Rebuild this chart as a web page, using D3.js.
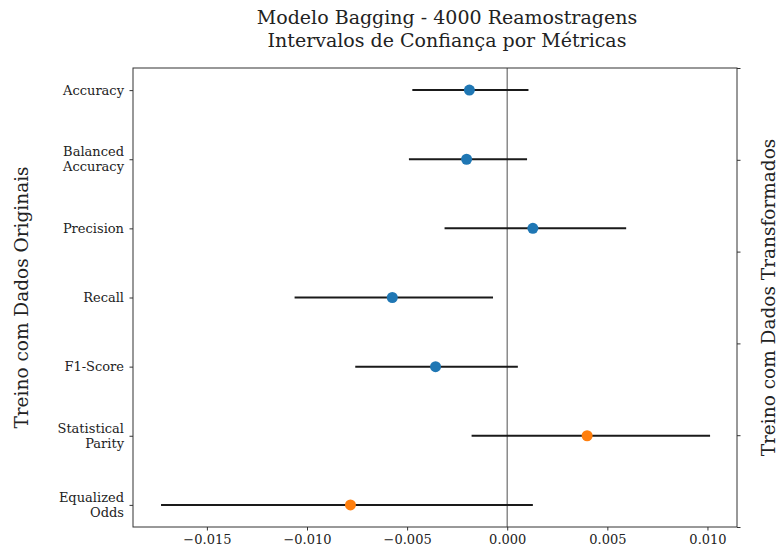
<!DOCTYPE html>
<html>
<head>
<meta charset="utf-8">
<script src="https://cdn.jsdelivr.net/npm/d3@7"></script>
<style>
  body { margin: 0; background: #fff; }
  text { font-family: "DejaVu Serif", serif; fill: #222; }
</style>
</head>
<body>
<div id="chart"></div>
<script>
// metrics, top to bottom
var metrics = ["Accuracy", "Balanced Accuracy", "Precision", "Recall", "F1-Score", "Statistical Parity", "Equalized Odds"];
var labelLines = [["Accuracy"], ["Balanced", "Accuracy"], ["Precision"], ["Recall"], ["F1-Score"], ["Statistical", "Parity"], ["Equalized", "Odds"]];
var means = [-0.00189, -0.00203, 0.00128, -0.00574, -0.00358, 0.00399, -0.00783];
var lower = [-0.00474, -0.00491, -0.00313, -0.01062, -0.00759, -0.00178, -0.01729];
var upper = [0.00106, 0.00099, 0.00594, -0.00071, 0.00053, 0.01013, 0.00128];
var groups = ["perf", "perf", "perf", "perf", "perf", "fair", "fair"];
var xTicks = [-0.015, -0.010, -0.005, 0.000, 0.005, 0.010];
var rightTicks = [0, 0.2, 0.4, 0.6, 0.8, 1.0];

var width = 781, height = 552;
var margin = {top: 68, right: 44, bottom: 25, left: 133};
var w = width - margin.left - margin.right,
    h = height - margin.top - margin.bottom;

var svg = d3.select("#chart").append("svg")
    .attr("width", width)
    .attr("height", height);

var g = svg.append("g")
    .attr("transform", "translate(" + margin.left + "," + margin.top + ")");

var x = d3.scaleLinear()
    .domain([-0.01869, 0.011475])
    .range([0, w]);

var y = d3.scalePoint()
    .domain(metrics)
    .range([0, h])
    .padding(0.32);

var yRight = d3.scaleLinear().domain([1, 0]).range([0, h]);

var color = {perf: "#1f77b4", fair: "#ff7f0e"};

// zero reference line
g.append("line")
    .attr("x1", x(0)).attr("x2", x(0))
    .attr("y1", 0).attr("y2", h)
    .attr("stroke", "#8a8a8a")
    .attr("stroke-width", 1.5);

// intervals
var rows = metrics.map(function(m, i) {
    return {name: m, mean: means[i], lo: lower[i], hi: upper[i], group: groups[i], lines: labelLines[i]};
});

g.selectAll(".ci")
    .data(rows)
    .enter().append("line")
    .attr("class", "ci")
    .attr("x1", function(d) { return x(d.lo); })
    .attr("x2", function(d) { return x(d.hi); })
    .attr("y1", function(d) { return y(d.name); })
    .attr("y2", function(d) { return y(d.name); })
    .attr("stroke", "#1a1a1a")
    .attr("stroke-width", 2);

g.selectAll(".pt")
    .data(rows)
    .enter().append("circle")
    .attr("class", "pt")
    .attr("cx", function(d) { return x(d.mean); })
    .attr("cy", function(d) { return y(d.name); })
    .attr("r", 5.5)
    .attr("fill", function(d) { return color[d.group]; });

// frame
g.append("rect")
    .attr("width", w).attr("height", h)
    .attr("fill", "none")
    .attr("stroke", "#333")
    .attr("stroke-width", 1);

// x axis
var xAxis = g.append("g")
    .attr("transform", "translate(0," + h + ")")
    .call(d3.axisBottom(x).tickValues(xTicks).tickFormat(d3.format(".3f")).tickSize(3.5).tickPadding(4));
xAxis.select(".domain").remove();
xAxis.selectAll("line").attr("stroke", "#333");
xAxis.selectAll("text").style("font-family", "DejaVu Serif").style("font-size", "13px").attr("fill", "#222");

// left axis
var yAxis = g.append("g")
    .call(d3.axisLeft(y).tickSize(3.5).tickFormat(""));
yAxis.select(".domain").remove();
yAxis.selectAll("line").attr("stroke", "#333");

g.selectAll(".ylab")
    .data(rows)
    .enter().append("text")
    .attr("class", "ylab")
    .attr("text-anchor", "end")
    .attr("x", -9)
    .attr("y", function(d) { return y(d.name); })
    .style("font-size", "13px")
    .each(function(d) {
        var t = d3.select(this);
        var n = d.lines.length;
        d.lines.forEach(function(s, k) {
            t.append("tspan")
                .attr("x", -9)
                .attr("dy", k === 0 ? (0.35 - (n - 1) * 0.58) + "em" : "1.16em")
                .text(s);
        });
    });

// right (twin) axis, ticks only
var rAxis = g.append("g")
    .attr("transform", "translate(" + w + ",0)")
    .call(d3.axisRight(yRight).tickValues(rightTicks).tickSize(3.5).tickFormat(""));
rAxis.select(".domain").remove();
rAxis.selectAll("line").attr("stroke", "#333");

// axis titles
svg.append("text")
    .attr("transform", "translate(22," + (margin.top + h / 2) + ") rotate(-90)")
    .attr("text-anchor", "middle")
    .attr("dy", "0.35em")
    .style("font-size", "18.5px")
    .text("Treino com Dados Originais");

svg.append("text")
    .attr("transform", "translate(769," + (margin.top + h / 2) + ") rotate(-90)")
    .attr("text-anchor", "middle")
    .attr("dy", "0.35em")
    .style("font-size", "18.5px")
    .text("Treino com Dados Transformados");

// title
var tx = 447;
var title = svg.append("text")
    .attr("text-anchor", "middle")
    .style("font-size", "19px");
title.append("tspan").attr("x", tx).attr("y", 24).text("Modelo Bagging - 4000 Reamostragens");
title.append("tspan").attr("x", tx).attr("y", 47).text("Intervalos de Confiança por Métricas");
</script>
</body>
</html>
